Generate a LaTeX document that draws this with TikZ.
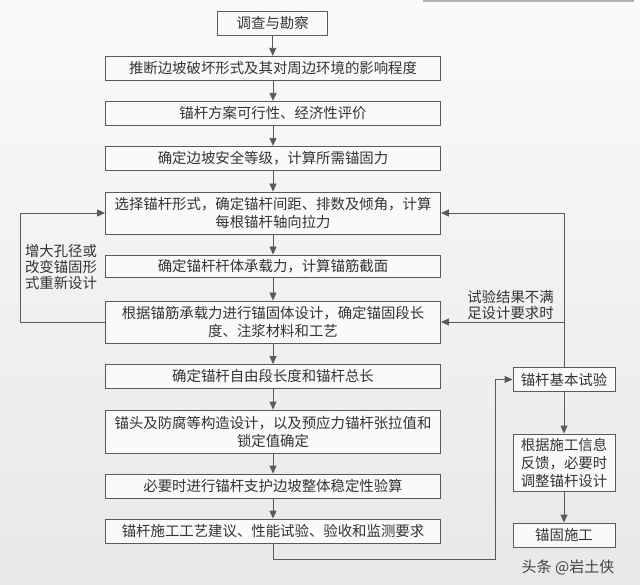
\documentclass[tikz,border=0pt]{standalone}
\usepackage{fontspec}
\setmainfont{Noto Sans CJK SC}
\usetikzlibrary{arrows.meta, calc}

\begin{document}
\begin{tikzpicture}[x=1pt, y=-1pt, font=\fontsize{14.4}{18}\selectfont, text=black!80,
    blk/.style={draw=black!65, line width=0.9pt, fill=black!2, minimum width=335pt, minimum height=24pt, inner sep=0.5pt, align=center},
    sbk/.style={blk, minimum width=102pt},
    note/.style={align=left, inner sep=0pt, font=\fontsize{14.4}{16}\selectfont},
    arr/.style={draw=black!65, line width=0.9pt, -{Triangle[length=8pt, width=7pt]}}]
    \useasboundingbox (0,0) rectangle (640,585);
    \shade[top color=black!2, bottom color=black!9] (0,0) rectangle (640,585);
    \fill[black!30] (423,0) rectangle (634,2);

    \node[blk, minimum width=110pt] (b1) at (272.7,23.3) {调查与勘察};
    \node[blk] (b2)  at (273,68.3)  {推断边坡破坏形式及其对周边环境的影响程度};
    \node[blk] (b3)  at (273,113.3) {锚杆方案可行性、经济性评价};
    \node[blk] (b4)  at (273,158.3) {确定边坡安全等级，计算所需锚固力};
    \node[blk, minimum height=42pt] (b5) at (273,213) {选择锚杆形式，确定锚杆间距、排数及倾角，计算\\每根锚杆轴向拉力};
    \node[blk, minimum height=22pt] (b6) at (273,266) {确定锚杆杆体承载力，计算锚筋截面};
    \node[blk, minimum height=42pt] (b7) at (273,322) {根据锚筋承载力进行锚固体设计，确定锚固段长\\度、注浆材料和工艺};
    \node[blk] (b8)  at (273,376.5) {确定锚杆自由段长度和锚杆总长};
    \node[blk, minimum height=43pt] (b9) at (273,431.5) {锚头及防腐等构造设计，以及预应力锚杆张拉值和\\锁定值确定};
    \node[blk] (b10) at (273,486)   {必要时进行锚杆支护边坡整体稳定性验算};
    \node[blk] (b11) at (273,531)   {锚杆施工工艺建议、性能试验、验收和监测要求};

    \node[sbk] (r1) at (564,379.5) {锚杆基本试验};
    \node[sbk, minimum height=57pt] (r2) at (564,462.5) {根据施工信息\\反馈，必要时\\调整锚杆设计};
    \node[sbk] (r3) at (564,535) {锚固施工};

    \node[note] (redo) at (61,267) {增大孔径或\\改变锚固形\\式重新设计};
    \node[note] (fail) at (510.5,304.5) {试验结果不满\\足设计要求时};
    \node[text=black!75, font=\fontsize{15}{15}\selectfont] (mark) at (568,567) {头条 @岩土侠};

    \coordinate (lx) at (20,0);
    \coordinate (bx) at (495,559);
    \foreach \a/\b in {b1/b2, b2/b3, b3/b4, b4/b5, b5/b6, b6/b7, b7/b8, b8/b9, b9/b10, b10/b11, r1/r2, r2/r3}
      \draw[arr] (\a.south) -- (\a.south |- \b.north);
    \draw[arr] (b7.west) -- (b7.west -| lx) |- (b5.west);
    \draw[arr] (r1.north) |- (b5.east);
    \draw[arr] (r1.north |- b7.east) -- (b7.east);
    \draw[arr] (b11.south) |- (bx) |- (r1.west);
\end{tikzpicture}
\end{document}
